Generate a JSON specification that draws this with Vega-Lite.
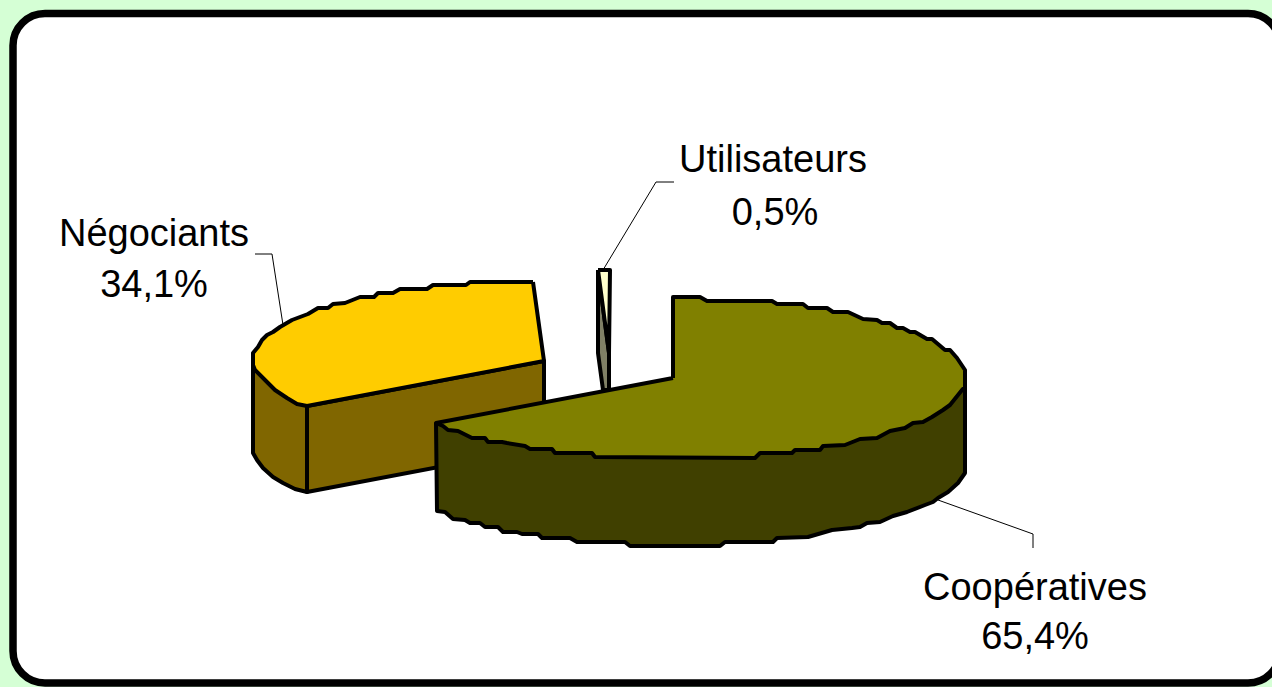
{
"$schema":"https://vega.github.io/schema/vega-lite/v6.json",
"width":1272,"height":687,"padding":0,"autosize":{"type":"none"},
"background":"#D5FFD5",
"view":{"stroke":null},
"datasets":{
"frame":[{"x0":13,"y0":13.5,"x1":1280,"y1":683}],
"leaders":[
{"line":"Négociants","s":1,"x":255,"y":254},{"line":"Négociants","s":2,"x":272,"y":254},{"line":"Négociants","s":3,"x":283,"y":325},
{"line":"Utilisateurs","s":1,"x":674,"y":182},{"line":"Utilisateurs","s":2,"x":656,"y":182},{"line":"Utilisateurs","s":3,"x":603,"y":270},
{"line":"Coopératives","s":1,"x":1033,"y":548},{"line":"Coopératives","s":2,"x":1033,"y":534},{"line":"Coopératives","s":3,"x":938,"y":500}],
"labels":[
{"t":"Utilisateurs","x":773,"y":172},{"t":"0,5%","x":775,"y":225},
{"t":"Négociants","x":154,"y":246},{"t":"34,1%","x":154,"y":297},
{"t":"Coopératives","x":1035,"y":600},{"t":"65,4%","x":1035,"y":649}],
"faces":[
{"face":"a","tone":"Négociants côté","s":1,"x":253,"y":365},{"face":"a","tone":"Négociants côté","s":2,"x":253,"y":453},{"face":"a","tone":"Négociants côté","s":3,"x":257,"y":460},{"face":"a","tone":"Négociants côté","s":4,"x":263,"y":468},{"face":"a","tone":"Négociants côté","s":5,"x":273,"y":477},{"face":"a","tone":"Négociants côté","s":6,"x":283,"y":483},{"face":"a","tone":"Négociants côté","s":7,"x":295,"y":489},{"face":"a","tone":"Négociants côté","s":8,"x":307,"y":492},{"face":"a","tone":"Négociants côté","s":9,"x":307,"y":406},{"face":"a","tone":"Négociants côté","s":10,"x":253,"y":365},
{"face":"b","tone":"Négociants côté","s":1,"x":307,"y":406},{"face":"b","tone":"Négociants côté","s":2,"x":307,"y":492},{"face":"b","tone":"Négociants côté","s":3,"x":544,"y":447},{"face":"b","tone":"Négociants côté","s":4,"x":544,"y":361},{"face":"b","tone":"Négociants côté","s":5,"x":307,"y":406},
{"face":"c","tone":"Négociants dessus","s":1,"x":533,"y":282},{"face":"c","tone":"Négociants dessus","s":2,"x":470,"y":282},{"face":"c","tone":"Négociants dessus","s":3,"x":466,"y":285},{"face":"c","tone":"Négociants dessus","s":4,"x":433,"y":285},{"face":"c","tone":"Négociants dessus","s":5,"x":427,"y":289},{"face":"c","tone":"Négociants dessus","s":6,"x":400,"y":289},{"face":"c","tone":"Négociants dessus","s":7,"x":393,"y":293},{"face":"c","tone":"Négociants dessus","s":8,"x":378,"y":293},{"face":"c","tone":"Négociants dessus","s":9,"x":374,"y":297},{"face":"c","tone":"Négociants dessus","s":10,"x":360,"y":297},{"face":"c","tone":"Négociants dessus","s":11,"x":345,"y":303},{"face":"c","tone":"Négociants dessus","s":12,"x":333,"y":304},{"face":"c","tone":"Négociants dessus","s":13,"x":328,"y":308},{"face":"c","tone":"Négociants dessus","s":14,"x":318,"y":308},{"face":"c","tone":"Négociants dessus","s":15,"x":308,"y":314},{"face":"c","tone":"Négociants dessus","s":16,"x":300,"y":317},{"face":"c","tone":"Négociants dessus","s":17,"x":292,"y":320},{"face":"c","tone":"Négociants dessus","s":18,"x":280,"y":327},{"face":"c","tone":"Négociants dessus","s":19,"x":273,"y":332},{"face":"c","tone":"Négociants dessus","s":20,"x":267,"y":335},{"face":"c","tone":"Négociants dessus","s":21,"x":262,"y":340},{"face":"c","tone":"Négociants dessus","s":22,"x":258,"y":347},{"face":"c","tone":"Négociants dessus","s":23,"x":253,"y":353},{"face":"c","tone":"Négociants dessus","s":24,"x":253,"y":365},{"face":"c","tone":"Négociants dessus","s":25,"x":255,"y":370},{"face":"c","tone":"Négociants dessus","s":26,"x":268,"y":383},{"face":"c","tone":"Négociants dessus","s":27,"x":275,"y":390},{"face":"c","tone":"Négociants dessus","s":28,"x":287,"y":398},{"face":"c","tone":"Négociants dessus","s":29,"x":297,"y":404},{"face":"c","tone":"Négociants dessus","s":30,"x":307,"y":406},{"face":"c","tone":"Négociants dessus","s":31,"x":544,"y":361},{"face":"c","tone":"Négociants dessus","s":32,"x":533,"y":282},
{"face":"d","tone":"Utilisateurs côté","s":1,"x":598,"y":270},{"face":"d","tone":"Utilisateurs côté","s":2,"x":609,"y":353},{"face":"d","tone":"Utilisateurs côté","s":3,"x":609,"y":390},{"face":"d","tone":"Utilisateurs côté","s":4,"x":603,"y":390},{"face":"d","tone":"Utilisateurs côté","s":5,"x":598,"y":353},{"face":"d","tone":"Utilisateurs côté","s":6,"x":598,"y":270},
{"face":"e","tone":"Utilisateurs dessus","s":1,"x":598,"y":270},{"face":"e","tone":"Utilisateurs dessus","s":2,"x":610,"y":270},{"face":"e","tone":"Utilisateurs dessus","s":3,"x":609,"y":353},{"face":"e","tone":"Utilisateurs dessus","s":4,"x":598,"y":270},
{"face":"f","tone":"Coopératives côté","s":1,"x":436,"y":423},{"face":"f","tone":"Coopératives côté","s":2,"x":437,"y":511},{"face":"f","tone":"Coopératives côté","s":3,"x":445,"y":512},{"face":"f","tone":"Coopératives côté","s":4,"x":453,"y":519},{"face":"f","tone":"Coopératives côté","s":5,"x":465,"y":520},{"face":"f","tone":"Coopératives côté","s":6,"x":470,"y":523},{"face":"f","tone":"Coopératives côté","s":7,"x":480,"y":523},{"face":"f","tone":"Coopératives côté","s":8,"x":485,"y":527},{"face":"f","tone":"Coopératives côté","s":9,"x":498,"y":527},{"face":"f","tone":"Coopératives côté","s":10,"x":503,"y":532},{"face":"f","tone":"Coopératives côté","s":11,"x":517,"y":532},{"face":"f","tone":"Coopératives côté","s":12,"x":522,"y":534},{"face":"f","tone":"Coopératives côté","s":13,"x":538,"y":534},{"face":"f","tone":"Coopératives côté","s":14,"x":542,"y":538},{"face":"f","tone":"Coopératives côté","s":15,"x":570,"y":538},{"face":"f","tone":"Coopératives côté","s":16,"x":577,"y":542},{"face":"f","tone":"Coopératives côté","s":17,"x":625,"y":542},{"face":"f","tone":"Coopératives côté","s":18,"x":630,"y":546},{"face":"f","tone":"Coopératives côté","s":19,"x":720,"y":546},{"face":"f","tone":"Coopératives côté","s":20,"x":725,"y":542},{"face":"f","tone":"Coopératives côté","s":21,"x":773,"y":542},{"face":"f","tone":"Coopératives côté","s":22,"x":777,"y":538},{"face":"f","tone":"Coopératives côté","s":23,"x":808,"y":537},{"face":"f","tone":"Coopératives côté","s":24,"x":832,"y":530},{"face":"f","tone":"Coopératives côté","s":25,"x":852,"y":528},{"face":"f","tone":"Coopératives côté","s":26,"x":860,"y":527},{"face":"f","tone":"Coopératives côté","s":27,"x":867,"y":523},{"face":"f","tone":"Coopératives côté","s":28,"x":880,"y":522},{"face":"f","tone":"Coopératives côté","s":29,"x":893,"y":516},{"face":"f","tone":"Coopératives côté","s":30,"x":907,"y":512},{"face":"f","tone":"Coopératives côté","s":31,"x":925,"y":505},{"face":"f","tone":"Coopératives côté","s":32,"x":933,"y":502},{"face":"f","tone":"Coopératives côté","s":33,"x":938,"y":498},{"face":"f","tone":"Coopératives côté","s":34,"x":948,"y":492},{"face":"f","tone":"Coopératives côté","s":35,"x":958,"y":483},{"face":"f","tone":"Coopératives côté","s":36,"x":965,"y":473},{"face":"f","tone":"Coopératives côté","s":37,"x":965,"y":387},{"face":"f","tone":"Coopératives côté","s":38,"x":700,"y":440},{"face":"f","tone":"Coopératives côté","s":39,"x":436,"y":423},
{"face":"g","tone":"Coopératives dessus","s":1,"x":673,"y":378},{"face":"g","tone":"Coopératives dessus","s":2,"x":673,"y":297},{"face":"g","tone":"Coopératives dessus","s":3,"x":700,"y":297},{"face":"g","tone":"Coopératives dessus","s":4,"x":707,"y":301},{"face":"g","tone":"Coopératives dessus","s":5,"x":772,"y":301},{"face":"g","tone":"Coopératives dessus","s":6,"x":777,"y":304},{"face":"g","tone":"Coopératives dessus","s":7,"x":803,"y":304},{"face":"g","tone":"Coopératives dessus","s":8,"x":808,"y":308},{"face":"g","tone":"Coopératives dessus","s":9,"x":827,"y":308},{"face":"g","tone":"Coopératives dessus","s":10,"x":833,"y":312},{"face":"g","tone":"Coopératives dessus","s":11,"x":848,"y":312},{"face":"g","tone":"Coopératives dessus","s":12,"x":863,"y":319},{"face":"g","tone":"Coopératives dessus","s":13,"x":877,"y":320},{"face":"g","tone":"Coopératives dessus","s":14,"x":882,"y":323},{"face":"g","tone":"Coopératives dessus","s":15,"x":890,"y":323},{"face":"g","tone":"Coopératives dessus","s":16,"x":897,"y":328},{"face":"g","tone":"Coopératives dessus","s":17,"x":903,"y":328},{"face":"g","tone":"Coopératives dessus","s":18,"x":910,"y":332},{"face":"g","tone":"Coopératives dessus","s":19,"x":915,"y":332},{"face":"g","tone":"Coopératives dessus","s":20,"x":927,"y":339},{"face":"g","tone":"Coopératives dessus","s":21,"x":932,"y":339},{"face":"g","tone":"Coopératives dessus","s":22,"x":945,"y":350},{"face":"g","tone":"Coopératives dessus","s":23,"x":950,"y":350},{"face":"g","tone":"Coopératives dessus","s":24,"x":957,"y":358},{"face":"g","tone":"Coopératives dessus","s":25,"x":965,"y":370},{"face":"g","tone":"Coopératives dessus","s":26,"x":965,"y":387},{"face":"g","tone":"Coopératives dessus","s":27,"x":962,"y":390},{"face":"g","tone":"Coopératives dessus","s":28,"x":950,"y":405},{"face":"g","tone":"Coopératives dessus","s":29,"x":943,"y":410},{"face":"g","tone":"Coopératives dessus","s":30,"x":932,"y":417},{"face":"g","tone":"Coopératives dessus","s":31,"x":923,"y":422},{"face":"g","tone":"Coopératives dessus","s":32,"x":913,"y":423},{"face":"g","tone":"Coopératives dessus","s":33,"x":905,"y":428},{"face":"g","tone":"Coopératives dessus","s":34,"x":890,"y":431},{"face":"g","tone":"Coopératives dessus","s":35,"x":877,"y":438},{"face":"g","tone":"Coopératives dessus","s":36,"x":860,"y":439},{"face":"g","tone":"Coopératives dessus","s":37,"x":845,"y":445},{"face":"g","tone":"Coopératives dessus","s":38,"x":823,"y":446},{"face":"g","tone":"Coopératives dessus","s":39,"x":820,"y":450},{"face":"g","tone":"Coopératives dessus","s":40,"x":795,"y":450},{"face":"g","tone":"Coopératives dessus","s":41,"x":792,"y":453},{"face":"g","tone":"Coopératives dessus","s":42,"x":760,"y":453},{"face":"g","tone":"Coopératives dessus","s":43,"x":755,"y":458},{"face":"g","tone":"Coopératives dessus","s":44,"x":595,"y":457},{"face":"g","tone":"Coopératives dessus","s":45,"x":592,"y":453},{"face":"g","tone":"Coopératives dessus","s":46,"x":555,"y":453},{"face":"g","tone":"Coopératives dessus","s":47,"x":552,"y":449},{"face":"g","tone":"Coopératives dessus","s":48,"x":530,"y":449},{"face":"g","tone":"Coopératives dessus","s":49,"x":525,"y":446},{"face":"g","tone":"Coopératives dessus","s":50,"x":507,"y":443},{"face":"g","tone":"Coopératives dessus","s":51,"x":502,"y":442},{"face":"g","tone":"Coopératives dessus","s":52,"x":488,"y":442},{"face":"g","tone":"Coopératives dessus","s":53,"x":485,"y":438},{"face":"g","tone":"Coopératives dessus","s":54,"x":472,"y":438},{"face":"g","tone":"Coopératives dessus","s":55,"x":458,"y":431},{"face":"g","tone":"Coopératives dessus","s":56,"x":448,"y":430},{"face":"g","tone":"Coopératives dessus","s":57,"x":443,"y":426},{"face":"g","tone":"Coopératives dessus","s":58,"x":436,"y":423},{"face":"g","tone":"Coopératives dessus","s":59,"x":673,"y":378}
]},
"layer":[
{"data":{"name":"frame"},"mark":{"type":"rect","fill":"white","stroke":"black","strokeWidth":7.5,"cornerRadius":32,"clip":true},
 "encoding":{"x":{"field":"x0","type":"quantitative","scale":{"domain":[0,1272],"range":[0,1272]},"axis":null},"x2":{"field":"x1"},"y":{"field":"y0","type":"quantitative","scale":{"domain":[0,687],"range":[0,687]},"axis":null},"y2":{"field":"y1"}}},
{"data":{"name":"leaders"},"mark":{"type":"line","stroke":"black","strokeWidth":1,"interpolate":"linear"},
 "encoding":{"x":{"field":"x","type":"quantitative","scale":{"domain":[0,1272],"range":[0,1272]},"axis":null},"y":{"field":"y","type":"quantitative","scale":{"domain":[0,687],"range":[0,687]},"axis":null},"detail":{"field":"line"},"order":{"field":"s"}}},
{"data":{"name":"faces"},"mark":{"type":"line","stroke":"black","strokeWidth":4,"strokeJoin":"round","interpolate":"linear"},
 "encoding":{"x":{"field":"x","type":"quantitative","scale":{"domain":[0,1272],"range":[0,1272]},"axis":null},"y":{"field":"y","type":"quantitative","scale":{"domain":[0,687],"range":[0,687]},"axis":null},"detail":{"field":"face"},"order":{"field":"s"},
 "fill":{"field":"tone","type":"nominal","legend":null,"scale":{"domain":["Négociants côté","Négociants dessus","Utilisateurs côté","Utilisateurs dessus","Coopératives côté","Coopératives dessus"],"range":["#806600","#FFCC00","#808066","#FFFFCC","#404000","#808000"]}}}},
{"data":{"name":"labels"},"mark":{"type":"text","font":"Liberation Sans","fontSize":38,"align":"center","baseline":"alphabetic","color":"black"},
 "encoding":{"x":{"field":"x","type":"quantitative","scale":{"domain":[0,1272],"range":[0,1272]},"axis":null},"y":{"field":"y","type":"quantitative","scale":{"domain":[0,687],"range":[0,687]},"axis":null},"text":{"field":"t"}}}
]}
